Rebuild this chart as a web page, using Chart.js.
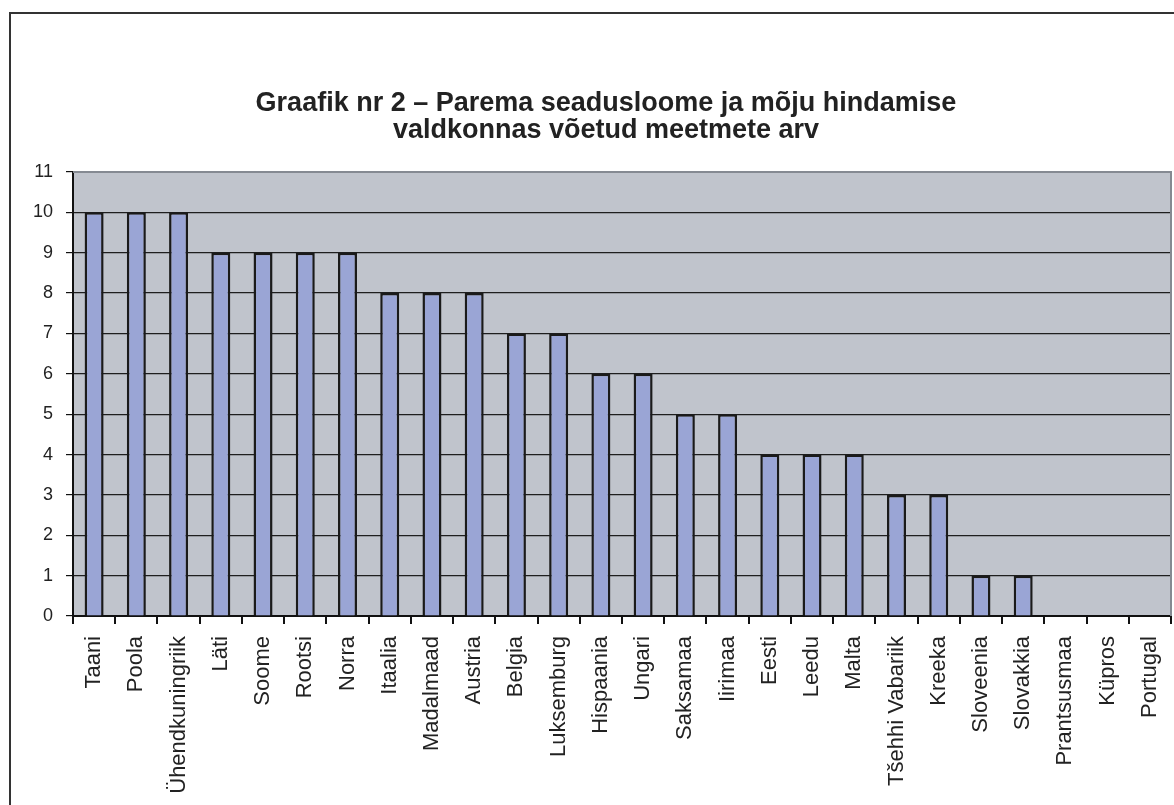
<!DOCTYPE html>
<html>
<head>
<meta charset="utf-8">
<script src="https://cdn.jsdelivr.net/npm/chart.js@4.4.0/dist/chart.umd.min.js"></script>
<style>
  html, body { margin: 0; padding: 0; background: #fff; }
  #wrap { width: 1174px; height: 805px; position: relative; }
</style>
</head>
<body>
<div id="wrap"><canvas id="measuresChart" width="1174" height="805"></canvas></div>
<script>
  const countries = [
    'Taani', 'Poola', 'Ühendkuningriik', 'Läti', 'Soome', 'Rootsi', 'Norra',
    'Itaalia', 'Madalmaad', 'Austria', 'Belgia', 'Luksemburg', 'Hispaania',
    'Ungari', 'Saksamaa', 'Iirimaa', 'Eesti', 'Leedu', 'Malta',
    'Tšehhi Vabariik', 'Kreeka', 'Sloveenia', 'Slovakkia', 'Prantsusmaa',
    'Küpros', 'Portugal',
  ];
  const measures = [10, 10, 10, 9, 9, 9, 9, 8, 8, 8, 7, 7, 6, 6, 5, 5, 4, 4, 4, 3, 3, 1, 1, 0, 0, 0];
  const yTicks = [0, 1, 2, 3, 4, 5, 6, 7, 8, 9, 10, 11];
  const titleLines = [
    'Graafik nr 2 – Parema seadusloome ja mõju hindamise',
    'valdkonnas võetud meetmete arv',
  ];

  const fontFamily = '"Liberation Sans", Arial, Helvetica, sans-serif';

  // white page, outer frame, grey plot background/edges and the title
  const framePlugin = {
    id: 'frame',
    beforeDraw(chart) {
      const ctx = chart.ctx;
      const a = chart.chartArea;
      ctx.save();
      ctx.fillStyle = '#ffffff';
      ctx.fillRect(0, 0, chart.width, chart.height);
      ctx.strokeStyle = '#333333';
      ctx.lineWidth = 2;
      ctx.beginPath();
      ctx.moveTo(10, chart.height);
      ctx.lineTo(10, 13);
      ctx.lineTo(chart.width, 13);
      ctx.stroke();
      ctx.fillStyle = '#c0c4cc';
      ctx.fillRect(a.left, a.top, a.right - a.left, a.bottom - a.top);

      ctx.fillStyle = '#222222';
      ctx.font = 'bold 27px ' + fontFamily;
      ctx.textAlign = 'center';
      ctx.textBaseline = 'middle';
      titleLines.forEach((line, i) => ctx.fillText(line, 606, 104 + i * 27));
      ctx.restore();
    },
    afterDatasetsDraw(chart) {
      const ctx = chart.ctx;
      const a = chart.chartArea;
      ctx.save();
      ctx.strokeStyle = '#858a92';
      ctx.lineWidth = 2;
      ctx.beginPath();
      ctx.moveTo(a.left, a.top);
      ctx.lineTo(a.right, a.top);
      ctx.lineTo(a.right, a.bottom);
      ctx.stroke();
      ctx.restore();
    },
  };

  const ctxMeasures = document.getElementById('measuresChart').getContext('2d');
  const measuresChart = new Chart(ctxMeasures, {
    type: 'bar',
    data: {
      labels: countries,
      datasets: [
        {
          label: 'Meetmete arv',
          data: measures,
          backgroundColor: '#9aa5d5',
          borderColor: '#1a1a1a',
          borderWidth: 2.5,
          borderSkipped: 'bottom',
          categoryPercentage: 1,
          barPercentage: 0.45,
        },
      ],
    },
    options: {
      responsive: false,
      animation: false,
      layout: { padding: { left: 0, right: 3, top: 172, bottom: 0 } },
      plugins: {
        legend: { display: false },
        tooltip: { enabled: false },
        title: { display: false },
      },
      scales: {
        x: {
          afterFit: (scale) => {
            scale.height = 189;
            scale.paddingLeft = 0;
            scale.paddingRight = 0;
          },
          grid: {
            offset: true,
            drawOnChartArea: false,
            drawTicks: true,
            tickLength: 8,
            tickColor: '#111111',
            lineWidth: 2,
          },
          border: { display: true, color: '#111111', width: 2 },
          ticks: {
            autoSkip: false,
            maxRotation: 90,
            minRotation: 90,
            padding: 12,
            color: '#222222',
            font: { family: fontFamily, size: 22 },
          },
        },
        y: {
          min: 0,
          max: 11,
          afterFit: (scale) => { scale.width = 73; },
          afterBuildTicks: (scale) => { scale.ticks = yTicks.map((v) => ({ value: v })); },
          grid: {
            color: (c) => (c.tick && c.tick.value === 11 ? 'rgba(0,0,0,0)' : '#1e1e1e'),
            lineWidth: 1.2,
            drawTicks: true,
            tickLength: 7,
            tickColor: '#111111',
          },
          border: { display: true, color: '#111111', width: 2 },
          ticks: {
            stepSize: 1,
            padding: 13,
            color: '#222222',
            font: { family: fontFamily, size: 18 },
          },
        },
      },
    },
    plugins: [framePlugin],
  });
</script>
</body>
</html>
